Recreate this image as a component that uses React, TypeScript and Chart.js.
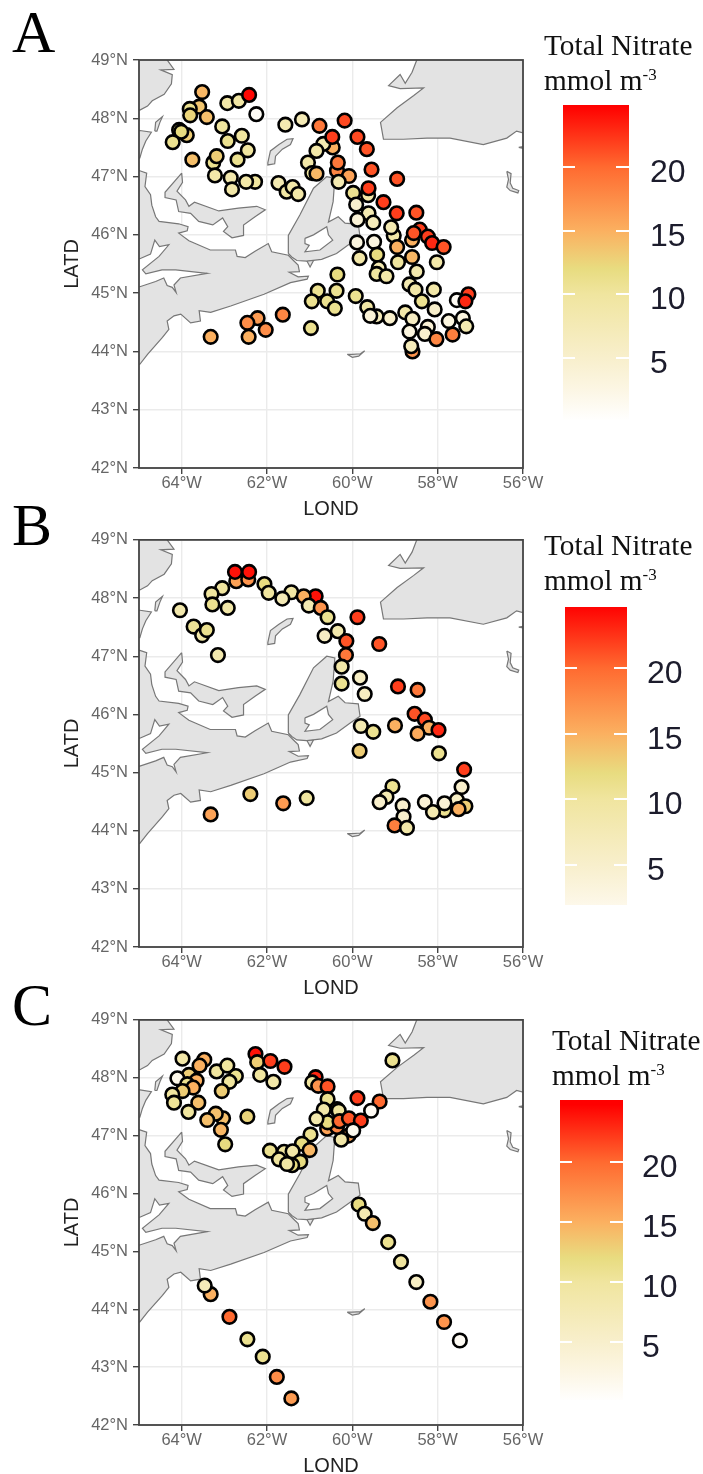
import React, { useEffect, useRef } from "react";
import { Chart, registerables } from "chart.js";

Chart.register(...registerables);

const LON_TICKS = [-64, -62, -60, -58, -56];
const LAT_TICKS = [42, 43, 44, 45, 46, 47, 48, 49];
const LEGEND_TICKS = [20, 15, 10, 5];
const COLOR_VALUES = [0, 2.5, 5, 10, 12, 15, 20, 24.8];
const COLOR_HEX = ["#ffffff", "#fcf6e4", "#f8efcc", "#f0e59f", "#e8dc80", "#fbb060", "#ff6a30", "#ff0000"];

// [longitude, latitude, total nitrate]
const stationsA = [
  [-63.52,48.45,14.5],[-62.93,48.26,9],[-62.66,48.30,9.5],[-62.42,48.40,24.5],[-62.25,48.07,1],[-63.59,48.2,13.5],[-63.81,48.16,11],[-63.8,48.05,12.5],[-63.41,48.02,14],[-63.05,47.86,10],
  [-63.88,47.71,13],[-64.06,47.8,12],[-64.01,47.77,12],[-64.21,47.59,11],[-62.59,47.7,10],[-62.92,47.61,11],[-62.45,47.45,10],[-62.69,47.29,11],[-63.75,47.29,14],[-63.26,47.24,11],[-63.18,47.35,13],
  [-63.22,47.02,9],[-62.85,46.98,8.5],[-62.82,46.78,9],[-62.28,46.91,10],[-62.49,46.91,9],[-61.73,46.89,8],[-61.54,46.74,9.5],[-61.4,46.82,9],[-61.27,46.7,9],[-61.57,47.89,8],[-61.18,47.98,7.5],
  [-60.46,47.5,15],[-60.68,47.56,8],[-60.77,47.87,19],[-60.47,47.68,22],[-60.18,47.96,21.5],[-59.88,47.68,21.5],[-59.66,47.47,21],[-60.84,47.44,9],[-61.04,47.24,9],[-60.94,47.06,10],[-60.84,47.05,14.5],
  [-60.36,47.1,18],[-60.34,47.24,19],[-60.08,47.01,16],[-60.32,46.91,8],[-59.55,47.12,21],[-58.95,46.96,21],[-59.63,46.68,9],[-59.62,46.8,22],[-59.98,46.72,11],[-59.27,46.56,22],[-59.91,46.52,5],
  [-58.96,46.37,22],[-58.5,46.38,21],[-59.62,46.37,8],[-59.88,46.26,4],[-59.51,46.21,7],[-59.03,45.99,9],[-59.09,46.13,8],[-58.6,45.91,15],[-58.42,46.09,22],[-58.56,46.03,21],[-58.23,45.97,22],[-58.13,45.86,23],[-57.86,45.79,21],
  [-59.89,45.87,3],[-59.49,45.88,3],[-58.95,45.79,15],[-59.42,45.66,12],[-59.83,45.6,9],[-58.6,45.62,14.5],[-58.93,45.53,10],[-58.02,45.53,9],[-60.35,45.32,12],[-59.38,45.43,8],[-59.43,45.33,10],[-59.2,45.29,9],[-58.49,45.37,8.5],
  [-58.66,45.15,8],[-58.52,45.06,9],[-58.09,45.06,9],[-58.37,44.86,11],[-58.07,44.72,5],[-60.81,45.04,11],[-60.37,45.04,11],[-59.92,44.95,11],[-60.95,44.86,11],[-60.59,44.86,11],[-60.41,44.74,11],[-59.65,44.76,9.5],
  [-59.43,44.6,7],[-59.58,44.61,4],[-59.12,44.57,5],[-58.76,44.67,9],[-58.59,44.56,6],[-61.63,44.63,18],[-62.22,44.57,16.5],[-62.46,44.49,17.5],[-62.03,44.37,17.5],[-62.43,44.25,15],[-63.32,44.25,15],[-60.97,44.4,11],
  [-58.23,44.42,4],[-58.66,44.34,3],[-58.3,44.3,5],[-58.03,44.21,18],[-57.74,44.52,3],[-57.65,44.29,18.5],[-57.41,44.57,3],[-57.33,44.43,8],[-57.55,44.88,1],[-57.28,44.98,22],[-57.35,44.86,23],[-58.59,44.0,17],[-58.62,44.09,7],
];

const stationsB = [
  [-62.72,48.29,16],[-62.44,48.32,17],[-62.75,48.45,24],[-62.42,48.45,24],[-62.06,48.24,12],[-63.05,48.17,10],[-63.3,48.07,10],[-61.96,48.09,10],[-63.28,47.89,11],[-62.92,47.83,9],[-64.04,47.79,8.5],[-61.43,48.1,9.5],[-61.64,47.99,7.5],
  [-60.86,48.03,24],[-61.14,48.03,15],[-61.02,47.87,8],[-60.74,47.83,17],[-60.58,47.67,11],[-59.88,47.67,22],[-63.72,47.51,10.5],[-63.52,47.36,9],[-63.41,47.45,11],[-63.15,47.02,8.5],[-60.34,47.43,8.5],[-60.65,47.35,6],
  [-60.14,47.26,21],[-59.37,47.21,21],[-60.15,47.02,19],[-60.25,46.82,9],[-59.82,46.63,6],[-60.25,46.53,11],[-59.71,46.35,6.5],[-58.93,46.48,22],[-58.47,46.42,19],[-58.54,46.01,21],[-58.3,45.91,21.5],[-59.0,45.81,15],[-59.8,45.8,8],
  [-59.51,45.7,11],[-58.2,45.77,15],[-57.98,45.73,23],[-58.47,45.67,15.5],[-59.83,45.37,13],[-57.97,45.33,11],[-57.38,45.05,22],[-57.44,44.75,5],[-59.06,44.76,11],[-59.2,44.58,8],[-59.36,44.49,5],[-58.82,44.43,5],[-58.3,44.49,4],
  [-57.55,44.53,6],[-57.84,44.35,11],[-57.84,44.47,4],[-58.11,44.32,8],[-57.35,44.42,13],[-57.51,44.37,15],[-58.8,44.24,5],[-59.01,44.09,18.5],[-58.72,44.05,9],[-61.62,44.47,16.5],[-61.07,44.56,10],[-62.39,44.63,13],[-63.32,44.28,16],
];

const stationsC = [
  [-63.98,48.33,9],[-63.47,48.31,15],[-63.58,48.21,15],[-63.18,48.11,10],[-62.93,48.21,10],[-62.73,48.03,11],[-62.88,47.93,10],[-63.06,47.77,13],[-63.83,48.05,13],[-63.65,47.95,15],[-64.1,47.99,2],[-63.87,47.89,11],[-63.73,47.83,15],[-63.98,47.77,13],
  [-64.22,47.71,10],[-64.18,47.57,10.5],[-63.61,47.57,14],[-63.84,47.41,10],[-63.03,47.3,14],[-63.2,47.38,14],[-63.4,47.27,14],[-63.08,47.1,14.5],[-62.98,46.85,12],[-62.46,47.33,12.5],[-62.27,48.41,24],[-62.23,48.27,13],[-61.92,48.29,22],[-61.59,48.19,22],
  [-62.16,48.05,10],[-61.85,47.93,9],[-60.86,48.01,23],[-60.94,47.92,10],[-60.8,47.86,17],[-60.58,47.85,21],[-59.88,47.65,22],[-59.36,47.59,20],[-59.06,48.3,11],[-59.56,47.43,1],[-60.58,47.63,11],[-60.36,47.46,17],[-60.67,47.45,9],[-60.32,47.43,10],
  [-60.09,47.0,16],[-60.26,46.93,9],[-60.59,47.12,16],[-60.36,47.15,18],[-60.58,47.23,12],[-60.3,47.25,20],[-60.08,47.3,21],[-59.8,47.26,22],[-60.84,47.29,8.5],[-59.98,47.09,1.5],[-60.98,47.02,11],[-61.18,46.86,12],[-61.0,46.75,14.5],[-61.93,46.74,11],
  [-61.6,46.72,10],[-61.4,46.73,9],[-61.72,46.59,10],[-61.22,46.55,12],[-61.41,46.49,12],[-61.53,46.51,9.5],[-59.85,45.81,12],[-59.71,45.65,8],[-59.52,45.49,14],[-59.16,45.16,11],[-58.86,44.82,10],[-58.5,44.47,6],[-58.17,44.13,17],[-57.85,43.78,17],[-57.48,43.46,1],
  [-63.32,44.26,15],[-63.46,44.41,7],[-62.88,43.87,20],[-62.46,43.48,11],[-62.1,43.18,11],[-61.77,42.83,17.5],[-61.43,42.46,16.5],
];

// land outlines, [longitude, latitude]
const mainlandCoast = [[-66,47.1],[-64.98,47.1],[-64.82,47.06],[-64.86,46.83],[-64.73,46.69],[-64.7,46.51],[-64.61,46.31],[-64.53,46.23],[-64.07,46.19],[-63.85,46.14],[-63.87,46.07],[-64.07,46.03],[-63.83,45.9],[-63.33,45.74],[-62.74,45.74],[-62.7,45.63],[-62.51,45.61],[-62.28,45.72],[-61.97,45.85],[-61.89,45.71],[-61.5,45.65],[-61.38,45.56],[-61.27,45.48],[-61.24,45.37],[-61.48,45.36],[-61.27,45.28],[-61.03,45.29],[-61.06,45.24],[-61.45,45.18],[-62.07,44.98],[-62.85,44.78],[-63.32,44.67],[-63.59,44.7],[-63.56,44.52],[-63.79,44.49],[-64.02,44.64],[-64.18,44.61],[-64.34,44.52],[-64.3,44.38],[-64.45,44.24],[-64.8,43.95],[-64.98,43.78],[-66,43.78]];
const fundyWater = [[-66,45.59],[-64.98,45.59],[-64.73,45.67],[-64.63,45.91],[-64.52,45.8],[-64.3,45.83],[-64.53,45.63],[-64.92,45.4],[-64.84,45.33],[-64.46,45.4],[-64.14,45.4],[-63.4,45.34],[-64.03,45.26],[-64.18,45.14],[-64.13,45.01],[-64.22,45.1],[-64.34,45.13],[-64.42,45.26],[-64.61,45.2],[-64.98,45.11],[-66,45.11]];
const princeEdward = [[-64.0,47.06],[-63.98,46.9],[-64.11,46.75],[-63.91,46.6],[-63.83,46.49],[-63.7,46.56],[-63.13,46.41],[-62.67,46.46],[-62.24,46.49],[-62.04,46.43],[-62.28,46.31],[-62.55,46.17],[-62.55,45.99],[-62.82,45.95],[-63.02,46.06],[-62.92,46.14],[-63.04,46.29],[-63.27,46.17],[-63.6,46.23],[-63.79,46.37],[-64.07,46.4],[-64.13,46.6],[-64.39,46.64],[-64.39,46.73]];
const capeBreton = [[-61.5,45.68],[-61.5,45.99],[-61.23,46.34],[-60.91,46.8],[-60.6,47.0],[-60.41,46.97],[-60.45,46.57],[-60.56,46.22],[-60.33,46.31],[-60.17,46.2],[-59.86,46.18],[-59.82,45.97],[-60.05,45.85],[-60.37,45.68],[-60.72,45.58],[-61.07,45.55],[-61.3,45.56],[-61.42,45.62]];
const brasDor = [[-61.11,45.94],[-60.91,46.0],[-60.6,46.14],[-60.56,46.0],[-60.46,45.91],[-60.76,45.74],[-61.11,45.71],[-61.01,45.82],[-61.11,45.85]];
const isleMadame = [[-61.07,45.56],[-60.91,45.56],[-60.99,45.45]];
const gaspe = [[-66,49.5],[-64.4,49.5],[-64.37,49.03],[-64.18,48.84],[-64.49,48.83],[-64.22,48.75],[-64.24,48.59],[-64.41,48.41],[-64.69,48.3],[-64.8,48.21],[-64.98,48.14],[-66,48.14]];
const northBrunswick = [[-66,47.79],[-64.98,47.79],[-64.71,47.76],[-64.84,47.61],[-64.92,47.47],[-64.98,47.32],[-66,47.32]];
const miscou = [[-64.63,47.78],[-64.61,47.93],[-64.45,48.03],[-64.51,47.93],[-64.58,47.78]];
const anticosti = [[-61.98,47.24],[-61.92,47.44],[-61.72,47.55],[-61.53,47.64],[-61.39,47.65],[-61.45,47.55],[-61.64,47.47],[-61.8,47.35],[-61.82,47.22],[-61.98,47.2]];
const newfoundland = [[-58.45,49.5],[-58.49,49.0],[-58.6,48.79],[-58.76,48.6],[-58.88,48.75],[-59.15,48.56],[-58.88,48.51],[-58.33,48.52],[-58.56,48.39],[-58.95,48.18],[-59.34,47.93],[-59.27,47.64],[-58.8,47.64],[-58.25,47.66],[-57.71,47.66],[-56.93,47.55],[-56.38,47.66],[-56.15,47.78],[-56,47.75],[-55,47.75],[-55,49.5]];
const burgeo = [[-56.1,47.5],[-55.9,47.53],[-55.9,47.47]];
const miquelon = [[-56.38,47.09],[-56.28,47.05],[-56.3,46.89],[-56.24,46.8],[-56.1,46.76],[-56.12,46.72],[-56.3,46.76],[-56.38,46.82],[-56.34,46.95]];
const sable = [[-60.12,43.95],[-60.0,43.9],[-59.85,43.92],[-59.71,44.01],[-59.81,43.96],[-60.0,43.95]];

const LAND = [mainlandCoast, princeEdward, capeBreton, isleMadame, gaspe, northBrunswick, miscou, anticosti, newfoundland, burgeo, miquelon, sable];
const WATER = [fundyWater, brasDor];

function colorFor(v: number) {
  if (v <= COLOR_VALUES[0]) return COLOR_HEX[0];
  for (let i = 1; i < COLOR_VALUES.length; i++) {
    if (v <= COLOR_VALUES[i]) {
      const t = (v - COLOR_VALUES[i - 1]) / (COLOR_VALUES[i] - COLOR_VALUES[i - 1]);
      const a = COLOR_HEX[i - 1], b = COLOR_HEX[i];
      const ch = (s: string, k: number) => parseInt(s.slice(1 + k * 2, 3 + k * 2), 16);
      const mix = [0, 1, 2].map((k) => Math.round(ch(a, k) + (ch(b, k) - ch(a, k)) * t));
      return `rgb(${mix.join(",")})`;
    }
  }
  return COLOR_HEX[COLOR_HEX.length - 1];
}

const outline = (pts: number[][], bg: string, order: number) => ({
  type: "line" as const,
  data: [...pts, pts[0]].map(([x, y]) => ({ x, y })),
  borderColor: "#777777",
  borderWidth: 1.2,
  backgroundColor: bg,
  fill: "shape",
  pointRadius: 0,
  tension: 0,
  order,
});

const framePlugin = {
  id: "frame",
  afterDatasetsDraw(chart: any) {
    const { left, top, width, height } = chart.chartArea;
    const c = chart.ctx;
    c.save();
    c.strokeStyle = "#444444";
    c.lineWidth = 1.8;
    c.strokeRect(left, top, width, height);
    c.restore();
  },
};

function MapChart({ stations, canvasTop, padTop }: { stations: number[][]; canvasTop: number; padTop: number }) {
  const ref = useRef<HTMLCanvasElement>(null);
  useEffect(() => {
    const chart = new Chart(ref.current as HTMLCanvasElement, {
      type: "scatter",
      data: {
        datasets: [
          {
            data: stations.map(([x, y]) => ({ x, y })),
            backgroundColor: stations.map((s) => colorFor(s[2])),
            borderColor: "#000000",
            borderWidth: 2.6,
            pointRadius: 6.8,
            order: 0,
          },
          ...WATER.map((p) => outline(p, "#ffffff", 1)),
          ...LAND.map((p) => outline(p, "#e3e3e3", 2)),
        ] as any,
      },
      plugins: [framePlugin],
      options: {
        animation: false,
        responsive: false,
        devicePixelRatio: 1,
        layout: { padding: { top: padTop, left: 0, right: 180, bottom: 0 } },
        plugins: { legend: { display: false }, tooltip: { enabled: false } },
        scales: {
          x: {
            type: "linear",
            min: -65,
            max: -56,
            afterBuildTicks: (s: any) => { s.ticks = LON_TICKS.map((value) => ({ value })); },
            afterFit: (s: any) => { s.height = 53; },
            border: { display: false },
            grid: { color: "#ebebeb", lineWidth: 1.4, tickColor: "#444444", tickLength: 6 },
            ticks: {
              autoSkip: false, maxRotation: 0, padding: 0, color: "#666666",
              font: { family: "Liberation Sans", size: 16.5 },
              callback: (v: any) => `${Math.abs(v)}°W`,
            },
            title: { display: true, text: "LOND", color: "#222222", padding: 0, font: { family: "Liberation Sans", size: 20 } },
          },
          y: {
            type: "linear",
            min: 42,
            max: 49,
            afterBuildTicks: (s: any) => { s.ticks = LAT_TICKS.map((value) => ({ value })); },
            afterFit: (s: any) => { s.width = 139; },
            border: { display: false },
            grid: { color: "#ebebeb", lineWidth: 1.4, tickColor: "#444444", tickLength: 6 },
            ticks: {
              autoSkip: false, padding: 5, color: "#666666",
              font: { family: "Liberation Sans", size: 16.5 },
              callback: (v: any) => `${v}°N`,
            },
            title: { display: true, text: "LATD", color: "#222222", padding: { top: 60, bottom: 0 }, font: { family: "Liberation Sans", size: 20 } },
          },
        },
      } as any,
    });
    return () => chart.destroy();
  }, []);
  return (
    <canvas
      ref={ref}
      width={703}
      height={padTop + 408 + 53}
      style={{ position: "absolute", left: 0, top: canvasTop, display: "block", filter: "blur(0.5px)" }}
    />
  );
}

function Legend({ textX, baseline, barX, barW, barTop, barBottom, labelX, v20y, v5y }: any) {
  const pxPerUnit = (v5y - v20y) / 15;
  const vMax = 20 + (v20y - barTop) / pxPerUnit;
  const vMin = 5 - (barBottom - v5y) / pxPerUnit;
  const vals = [vMax, ...COLOR_VALUES.filter((v) => v < vMax && v > vMin).reverse(), vMin];
  const grad = vals.map((v) => `${colorFor(v)} ${(((vMax - v) / (vMax - vMin)) * 100).toFixed(1)}%`).join(",");
  const titleStyle: React.CSSProperties = {
    position: "absolute", left: textX, fontFamily: "Liberation Serif", fontSize: 29.3, lineHeight: "30px", color: "#111", whiteSpace: "nowrap",
  };
  return (
    <>
      <div style={{ ...titleStyle, top: baseline - 25 }}>Total Nitrate</div>
      <div style={{ ...titleStyle, top: baseline + 10 }}>
        mmol m<span style={{ fontSize: 17, verticalAlign: 10, lineHeight: 0 }}>-3</span>
      </div>
      <div style={{ position: "absolute", left: barX, top: barTop, width: barW, height: barBottom - barTop, background: `linear-gradient(to bottom, ${grad})`, filter: "blur(0.5px)" }} />
      {LEGEND_TICKS.map((t) => {
        const y = v20y + (20 - t) * pxPerUnit;
        return (
          <React.Fragment key={t}>
            <div style={{ position: "absolute", left: barX, top: y - 1, width: 12, height: 2, background: "#fff" }} />
            <div style={{ position: "absolute", left: barX + barW - 13, top: y - 1, width: 13, height: 2, background: "#fff" }} />
            <div style={{ position: "absolute", left: labelX, top: y - 14, fontFamily: "Liberation Sans", fontSize: 32, lineHeight: "36px", color: "#1c1c2c", filter: "blur(0.5px)" }}>{t}</div>
          </React.Fragment>
        );
      })}
    </>
  );
}

const letter = (ch: string, top: number) => (
  <div style={{ position: "absolute", left: 12, top, fontFamily: "Liberation Serif", fontSize: 60, lineHeight: "60px", color: "#000" }}>{ch}</div>
);

export default function App() {
  return (
    <div style={{ position: "absolute", left: 0, top: 0, width: 703, height: 1474, overflow: "hidden", background: "#fff" }}>
      <MapChart stations={stationsA} canvasTop={0} padTop={60} />
      <MapChart stations={stationsB} canvasTop={525} padTop={14} />
      <MapChart stations={stationsC} canvasTop={1005} padTop={12} />
      {letter("A", 2)}
      {letter("B", 495)}
      {letter("C", 975)}
      <Legend textX={544} baseline={55} barX={563} barW={66} barTop={105} barBottom={420} labelX={650} v20y={167} v5y={358} />
      <Legend textX={544} baseline={555} barX={565} barW={62} barTop={607} barBottom={905} labelX={647} v20y={668} v5y={865} />
      <Legend textX={552} baseline={1050} barX={560} barW={63} barTop={1100} barBottom={1400} labelX={642} v20y={1162} v5y={1342} />
    </div>
  );
}
